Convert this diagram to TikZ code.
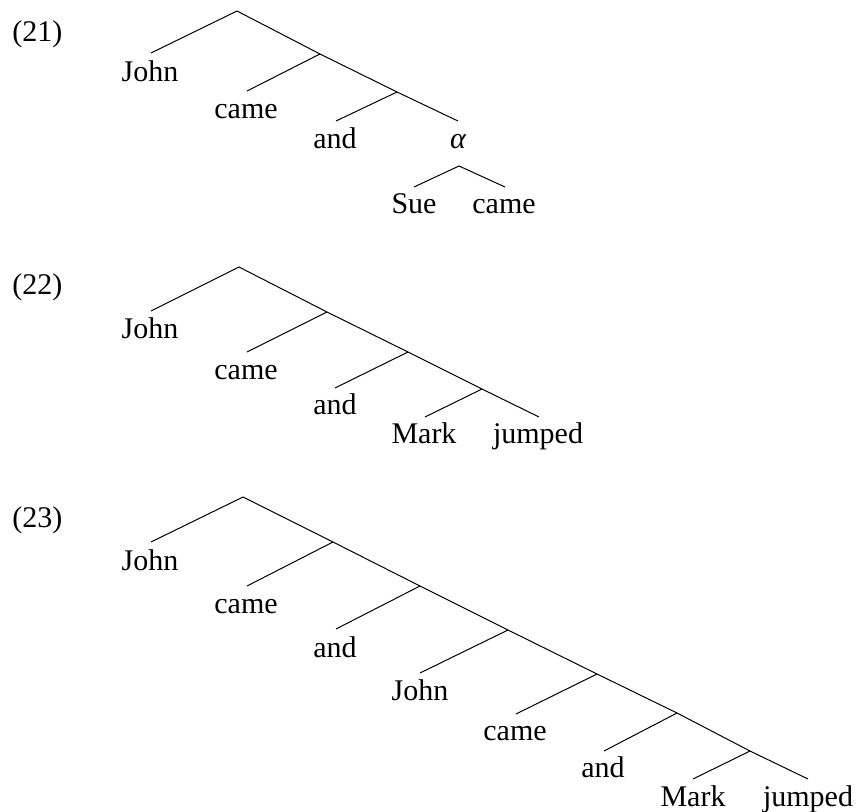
\documentclass[tikz,border=0pt]{standalone}
\usepackage{fontspec}
\setmainfont{Liberation Serif}
\begin{document}
\begin{tikzpicture}[x=1pt,y=-1pt,line width=1pt,
  word/.style={anchor=base,inner sep=0pt,font=\fontsize{30}{36}\selectfont},
  exlabel/.style={anchor=base west,inner sep=0pt,font=\fontsize{30}{36}\selectfont}]
\useasboundingbox (0,0) rectangle (856,811);
% ---------------- (21)
\node[exlabel] (ex21) at (12,41) {(21)};
\coordinate (a0) at (237,11);
\coordinate (a1) at (320,54);
\coordinate (a2) at (397,92);
\coordinate (aJ) at (151,53);
\coordinate (aC) at (247,91);
\coordinate (aA) at (336,121);
\coordinate (aAl) at (458,121);
\coordinate (aS) at (459,166);
\coordinate (aSu) at (414,187);
\coordinate (aCa) at (505,187);
\draw (aJ) -- (a0) -- (a1) -- (a2) -- (aAl);
\draw (a1) -- (aC);
\draw (a2) -- (aA);
\draw (aSu) -- (aS) -- (aCa);
\node[word] (aJohn) at (150,81) {John};
\node[word] (aCame) at (246,118) {came};
\node[word] (aAnd) at (335,148) {and};
\node[word] (aAlpha) at (458,148) {\itshape α};
\node[word] (aSue) at (414,213) {Sue};
\node[word] (aCame2) at (504,213) {came};
% ---------------- (22)
\node[exlabel] (ex22) at (12,294) {(22)};
\coordinate (b0) at (239,267);
\coordinate (b1) at (327,312);
\coordinate (b2) at (408,352);
\coordinate (b3) at (482,389);
\coordinate (bJ) at (151,311);
\coordinate (bC) at (247,352);
\coordinate (bA) at (335,388);
\coordinate (bM) at (425,417);
\coordinate (bJu) at (539,417);
\draw (bJ) -- (b0) -- (b1) -- (b2) -- (b3) -- (bJu);
\draw (b1) -- (bC);
\draw (b2) -- (bA);
\draw (b3) -- (bM);
\node[word] (bJohn) at (150,338) {John};
\node[word] (bCame) at (246,379) {came};
\node[word] (bAnd) at (335,414) {and};
\node[word] (bMark) at (424,443) {Mark};
\node[word] (bJumped) at (538,443) {jumped};
% ---------------- (23)
\node[exlabel] (ex23) at (12,527) {(23)};
\coordinate (c0) at (243,497);
\coordinate (c1) at (333,542);
\coordinate (c2) at (420,586);
\coordinate (c3) at (508,630);
\coordinate (c4) at (597,674);
\coordinate (c5) at (677,713);
\coordinate (c6) at (750,751);
\coordinate (cJ) at (151,542);
\coordinate (cC) at (247,586);
\coordinate (cA) at (336,629);
\coordinate (cJ2) at (420,673);
\coordinate (cC2) at (516,714);
\coordinate (cA2) at (604,751);
\coordinate (cM) at (693,779);
\coordinate (cJu) at (808,779);
\draw (cJ) -- (c0) -- (c1) -- (c2) -- (c3) -- (c4) -- (c5) -- (c6) -- (cJu);
\draw (c1) -- (cC);
\draw (c2) -- (cA);
\draw (c3) -- (cJ2);
\draw (c4) -- (cC2);
\draw (c5) -- (cA2);
\draw (c6) -- (cM);
\node[word] (cJohn) at (150,570) {John};
\node[word] (cCame) at (246,613) {came};
\node[word] (cAnd) at (335,657) {and};
\node[word] (cJohn2) at (420,700) {John};
\node[word] (cCame2) at (515,740) {came};
\node[word] (cAnd2) at (603,777) {and};
\node[word] (cMark) at (693,806) {Mark};
\node[word] (cJumped) at (808,806) {jumped};
\end{tikzpicture}
\end{document}
